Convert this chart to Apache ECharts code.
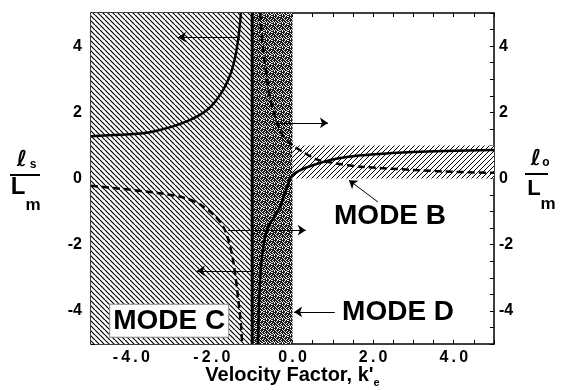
<!DOCTYPE html>
<html>
<head>
<meta charset="utf-8">
<script src="https://cdn.jsdelivr.net/npm/echarts@6/dist/echarts.min.js"></script>
<style>
  html, body { margin: 0; padding: 0; background: #fff; }
  #chart { width: 562px; height: 390px; }
</style>
</head>
<body>
<div id="chart"></div>
<script>
// curves: [k', l/Lm]
const leftSolid = [[-5, 1.28], [-4.3, 1.32], [-3.54, 1.4], [-2.72, 1.68], [-2.12, 2.07], [-1.72, 2.68], [-1.48, 3.37], [-1.35, 4.18], [-1.28, 5]];
const leftDashed = [[-5, -0.22], [-4.18, -0.32], [-3.34, -0.44], [-2.69, -0.58], [-2.27, -0.8], [-1.95, -1.1], [-1.72, -1.45], [-1.58, -1.9], [-1.47, -2.5], [-1.36, -3.5], [-1.28, -4.4], [-1.25, -5]];
const rightSolid = [[-0.86, -5], [-0.82, -3.5], [-0.77, -2.5], [-0.64, -1.56], [-0.45, -1.15], [-0.31, -0.85], [-0.18, -0.42], [0, 0.1], [0.5, 0.4], [1.35, 0.65], [3, 0.8], [5, 0.86]];
const rightDashed = [[-0.8, 5], [-0.73, 3.9], [-0.63, 3.0], [-0.55, 2.4], [-0.4, 1.75], [-0.24, 1.3], [0, 1.0], [0.26, 0.8], [0.6, 0.58], [1.0, 0.47], [1.75, 0.35], [3.0, 0.26], [3.8, 0.21], [5, 0.17]];

// shaded regions
const hatchLeft = [[-5, -5], [-1, 5]];
const stippleBand = [[-1, -5], [0, 5]];
const hatchRight = [[0, 0], [5, 1]];
const boundary = [[-1, -5], [-1, 5]];

// arrows: [fromX, fromY, toX, toY]
const arrows = [
  [-1.3, 4.27, -2.84, 4.27],
  [-0.36, 1.68, 0.88, 1.68],
  [-1.6, -1.56, 0.33, -1.56],
  [-1.0, -2.79, -2.37, -2.79],
  [1.05, -4.03, 0.04, -4.03],
  [2.12, -0.71, 1.4, -0.05]
];

// mode labels: [text, x, y]
const modeLabels = [['MODE B', 2.42, -1.13], ['MODE D', 2.62, -4.03]];
const modeBoxed = [['MODE C', -3.06, -4.3]];

const labelValues = [-4, -2, 0, 2, 4];

const FONT = '"Liberation Sans", Arial, Helvetica, sans-serif';
const THIN = '\u2009';

function hatch(dir, size, lw) {
  const c = document.createElement('canvas');
  c.width = size; c.height = size;
  const ctx = c.getContext('2d');
  ctx.fillStyle = '#fff';
  ctx.fillRect(0, 0, size, size);
  ctx.strokeStyle = '#000';
  ctx.lineWidth = lw;
  ctx.beginPath();
  [-size, 0, size].forEach(o => {
    if (dir === '\\') { ctx.moveTo(o, 0); ctx.lineTo(o + size, size); }
    else { ctx.moveTo(o, size); ctx.lineTo(o + size, 0); }
  });
  ctx.stroke();
  return c;
}

function stipple() {
  const c = document.createElement('canvas');
  c.width = 8; c.height = 8;
  const ctx = c.getContext('2d');
  ctx.fillStyle = '#1a1a1a';
  ctx.fillRect(0, 0, 8, 8);
  ctx.fillStyle = '#eee';
  const specks = [[0, 0], [2, 1], [5, 0], [7, 2], [1, 3], [4, 3], [6, 5], [3, 5], [0, 6], [5, 7], [2, 7], [7, 6],
    [4, 1], [6, 3], [1, 5], [3, 2], [0, 4], [5, 4], [7, 0], [2, 6], [6, 7], [4, 6]];
  specks.forEach(p => ctx.fillRect(p[0], p[1], 1, 1));
  return c;
}

function fmtX(v) {
  if (labelValues.indexOf(v) < 0) return '';
  return v.toFixed(1).split('').join(THIN);
}
function fmtY(v) {
  return labelValues.indexOf(v) < 0 ? '' : String(v);
}

const dom = document.getElementById('chart');
const myChart = echarts.init(dom, null, { renderer: 'canvas' });

const axisLine = { show: true, onZero: false, lineStyle: { color: '#000', width: 1.5 } };
const tick = { show: true, inside: true, length: 4, lineStyle: { color: '#000', width: 1 } };

function xAxisOf(pos, withLabels) {
  return {
    type: 'value', position: pos, min: -5, max: 5, interval: 0.5,
    axisLine: axisLine, axisTick: tick, splitLine: { show: false },
    axisLabel: {
      show: withLabels, formatter: fmtX, margin: 6, color: '#000',
      fontFamily: FONT, fontWeight: 'bold', fontSize: 16
    }
  };
}
function yAxisOf(pos, margin) {
  return {
    type: 'value', position: pos, min: -5, max: 5, interval: 0.5,
    axisLine: axisLine, axisTick: tick, splitLine: { show: false },
    axisLabel: {
      formatter: fmtY, margin: margin, color: '#000',
      fontFamily: FONT, fontWeight: 'bold', fontSize: 16
    }
  };
}

const xBottom = xAxisOf('bottom', true);
xBottom.name = "Velocity Factor, k'{sub|e}";
xBottom.nameLocation = 'middle';
xBottom.nameGap = 19;
xBottom.nameMoveOverlap = false;
xBottom.nameTextStyle = {
  color: '#000', fontFamily: FONT, fontWeight: 'bold', fontSize: 20,
  rich: { sub: { fontFamily: FONT, fontWeight: 'bold', fontSize: 11, padding: [14, 0, 0, 0] } }
};

function curve(name, data, dashed) {
  return {
    name: name, type: 'line', data: data, smooth: 0.3, showSymbol: false, z: 4,
    lineStyle: { color: '#000', width: 2.5, type: dashed ? [7, 4] : 'solid' }
  };
}

function fracText(x, y, text, font) {
  return { type: 'text', x: x, y: y, z: 10, style: { text: text, font: font, fill: '#000', align: 'center', verticalAlign: 'middle' } };
}

const option = {
  animation: false,
  backgroundColor: '#fff',
  grid: { left: 91, right: 68, top: 13, bottom: 46, containLabel: false, outerBoundsMode: 'none' },
  xAxis: [xBottom, xAxisOf('top', false)],
  yAxis: [yAxisOf('left', 9), yAxisOf('right', 5)],
  series: [
    {
      name: 'regions', type: 'line', data: [[-5, 0]], showSymbol: false, z: 1,
      lineStyle: { width: 0 },
      markArea: {
        silent: true,
        data: [
          [{ coord: hatchLeft[0], itemStyle: { color: { image: hatch('\\', 5, 1.2), repeat: 'repeat' } } }, { coord: hatchLeft[1] }],
          [{ coord: stippleBand[0], itemStyle: { color: { image: stipple(), repeat: 'repeat' } } }, { coord: stippleBand[1] }],
          [{ coord: hatchRight[0], itemStyle: { color: { image: hatch('/', 5, 1.0), repeat: 'repeat' } } }, { coord: hatchRight[1] }]
        ]
      }
    },
    {
      name: 'boundary', type: 'line', data: boundary, showSymbol: false, z: 3,
      lineStyle: { color: '#000', width: 3 }
    },
    curve('left solid', leftSolid, false),
    curve('left dashed', leftDashed, true),
    curve('right solid', rightSolid, false),
    curve('right dashed', rightDashed, true),
    {
      name: 'notes', type: 'line', data: [[-5, 0]], showSymbol: false, z: 5,
      lineStyle: { width: 0 },
      markLine: {
        silent: true, symbol: ['none', 'arrow'], symbolSize: 8,
        label: { show: false },
        lineStyle: { color: '#000', width: 1, type: 'solid' },
        data: arrows.map(a => [{ coord: [a[0], a[1]] }, { coord: [a[2], a[3]] }])
      },
      markPoint: {
        silent: true, symbol: 'circle', symbolSize: 0,
        data: modeLabels.map(m => ({
          coord: [m[1], m[2]],
          label: { show: true, position: 'inside', formatter: m[0], color: '#000', fontFamily: FONT, fontWeight: 'bold', fontSize: 28 }
        })).concat(modeBoxed.map(m => ({
          coord: [m[1], m[2]],
          label: {
            show: true, position: 'inside', formatter: m[0], color: '#000', fontFamily: FONT, fontWeight: 'bold', fontSize: 28,
            backgroundColor: '#fff', borderColor: '#888', borderWidth: 1, padding: [3, 3, 1, 3], lineHeight: 28
          }
        })))
      }
    }
  ],
  graphic: [
    fracText(22, 160, '\u2113', 'italic bold 22px "DejaVu Sans", sans-serif'),
    fracText(33, 165, 's', 'bold 12px ' + FONT),
    { type: 'line', z: 10, shape: { x1: 10, y1: 175, x2: 40, y2: 175 }, style: { stroke: '#000', lineWidth: 2 } },
    fracText(18, 187, 'L', 'bold 24px ' + FONT),
    fracText(33, 205, 'm', 'bold 17px ' + FONT),
    fracText(536, 159, '\u2113', 'italic bold 22px "DejaVu Sans", sans-serif'),
    fracText(546, 163, 'o', 'bold 12px ' + FONT),
    { type: 'line', z: 10, shape: { x1: 525, y1: 174, x2: 548, y2: 174 }, style: { stroke: '#000', lineWidth: 2 } },
    fracText(534, 189, 'L', 'bold 22px ' + FONT),
    fracText(548, 204, 'm', 'bold 17px ' + FONT)
  ]
};

myChart.setOption(option);
</script>
</body>
</html>
